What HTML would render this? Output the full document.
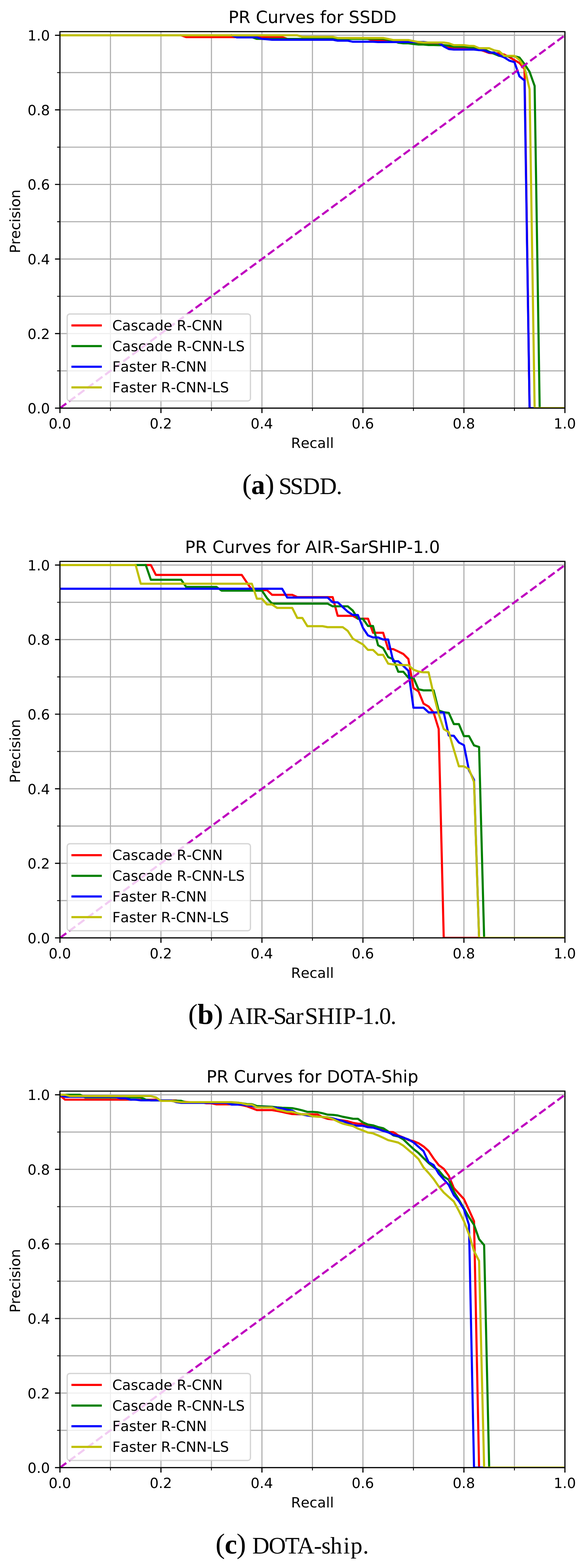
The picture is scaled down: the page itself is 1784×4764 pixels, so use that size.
<!DOCTYPE html>
<html lang="en"><head><meta charset="utf-8"><title>PR Curves</title>
<style>
html,body{margin:0;padding:0;background:#fff}
body{width:1784px;height:4764px;overflow:hidden}
svg{display:block}
text{font-family:"DejaVu Sans","Liberation Sans",sans-serif;fill:#000;font-kerning:none;text-rendering:geometricPrecision}
.tk text,.lg{font-size:42.98px}
.ti{font-size:51.57px}
.tk text.tn{font-size:42.7px}
.cap{font-family:"Liberation Serif","DejaVu Serif",serif;font-size:72px;font-kerning:none}
.cap .par{font-size:86px}
.cap .bl{font-weight:bold}
</style></head><body>
<svg width="1784" height="4764" viewBox="0 0 1784 4764">
<rect width="1784" height="4764" fill="#fff"/>
<defs><clipPath id="axclip"><rect x="182.2" y="96.1" width="1534.7" height="1143.9"/></clipPath></defs>
<g transform="translate(0,0)">
<path d="M182.2 96.1V1240M335.67 96.1V1240M489.14 96.1V1240M642.61 96.1V1240M796.08 96.1V1240M949.55 96.1V1240M1103.02 96.1V1240M1256.49 96.1V1240M1409.96 96.1V1240M1563.43 96.1V1240M1716.9 96.1V1240M182.2 1240H1716.9M182.2 1126.73H1716.9M182.2 1013.46H1716.9M182.2 900.19H1716.9M182.2 786.92H1716.9M182.2 673.65H1716.9M182.2 560.38H1716.9M182.2 447.11H1716.9M182.2 333.84H1716.9M182.2 220.57H1716.9M182.2 107.3H1716.9" stroke="#b0b0b0" stroke-width="3.44" fill="none"/>
<g clip-path="url(#axclip)" fill="none" stroke-width="6.45" stroke-linejoin="round" stroke-linecap="square">
<path d="M550.53 107.3 L565.88 112.7 L857.47 112.7 L872.82 118.1M1118.37 118.1 L1133.71 123 L1195.1 123 L1210.45 127.5 L1256.49 127.5 L1271.84 131.5 L1287.18 131.5 L1302.53 131 L1317.88 131 L1333.23 131.5 L1348.57 138 L1363.92 144.3 L1425.31 144.3 L1440.65 146 L1456 151 L1471.35 155.2 L1486.7 160.9 L1502.04 162.2 L1517.39 162.2 L1532.74 165.9 L1548.08 173.4 L1563.43 182.5 L1578.78 191.5 L1594.12 209.7 L1609.47 1240" stroke="#ff0000"/>
<path d="M704 107.3 L719.35 113 L765.39 113 L780.73 118.1 L1164.41 118.1 L1179.76 120.5 L1195.1 124 L1210.45 129.8 L1225.8 131.5 L1241.14 131.5 L1256.49 133.5 L1271.84 135.3 L1287.18 135.3 L1302.53 136.8 L1317.88 136.8 L1333.23 137.3 L1348.57 137.3 L1363.92 138.6 L1379.27 141.8 L1409.96 141.8 L1425.31 143.5 L1440.65 143.5 L1456 148 L1471.35 150 L1486.7 157 L1502.04 163.4 L1517.39 169.7 L1532.74 170.7 L1563.43 170.7 L1578.78 174.9 L1594.12 194.8 L1609.47 218 L1624.82 261.1 L1640.16 1240" stroke="#008000"/>
<path d="M704 107.3 L719.35 113.6 L780.73 113.6 L796.08 118.1 L811.43 119.3 L826.77 120.7 L1010.94 120.7 L1026.29 123.6 L1056.98 123.6 L1072.33 126.8 L1133.71 126.8 L1149.06 127.8 L1287.18 127.8 L1302.53 129.5 L1317.88 129.5 L1333.23 129.8 L1348.57 141 L1363.92 149 L1379.27 150.5 L1440.65 150.5 L1456 152.2 L1471.35 152.7 L1486.7 159.2 L1502.04 159.7 L1517.39 168.4 L1532.74 174.6 L1548.08 184.3 L1563.43 188.7 L1578.78 232.1 L1594.12 244.5 L1609.47 1240 L1624.82 1240" stroke="#0000ff"/>
<path d="M182.2 107.3 L903.51 107.3 L918.86 111.9 L1010.94 111.9 L1026.29 115.4 L1164.41 115.4 L1179.76 118.4 L1195.1 121.6 L1241.14 121.6 L1256.49 124.8 L1271.84 127.8 L1287.18 129.3 L1348.57 129.3 L1363.92 131.4 L1379.27 137.3 L1409.96 137.3 L1425.31 139.3 L1440.65 139.8 L1456 146.5 L1486.7 146.5 L1502.04 153 L1517.39 156 L1532.74 169.8 L1563.43 169.8 L1578.78 182.3 L1594.12 204.7 L1609.47 271 L1624.82 1240 L1716.9 1240" stroke="#bfbf00"/>
<path d="M182.2 1240L1716.9 107.3" stroke="#bf00bf" stroke-dasharray="23.85 10.31" stroke-linecap="butt"/>
</g>
<path d="M182.2 1240v15.04M182.2 1240h-15.04M489.14 1240v15.04M182.2 1013.46h-15.04M796.08 1240v15.04M182.2 786.92h-15.04M1103.02 1240v15.04M182.2 560.38h-15.04M1409.96 1240v15.04M182.2 333.84h-15.04M1716.9 1240v15.04M182.2 107.3h-15.04" stroke="#000" stroke-width="3.44" fill="none"/>
<path d="M335.67 1240v8.6M182.2 1126.73h-8.6M642.61 1240v8.6M182.2 900.19h-8.6M949.55 1240v8.6M182.2 673.65h-8.6M1256.49 1240v8.6M182.2 447.11h-8.6M1563.43 1240v8.6M182.2 220.57h-8.6" stroke="#000" stroke-width="2.58" fill="none"/>
<rect x="182.2" y="96.1" width="1534.7" height="1143.9" fill="none" stroke="#000" stroke-width="3.44" stroke-linejoin="miter"/>
<g class="tk">
<text class="tn" x="181.9" y="1302.3" text-anchor="middle">0.0</text>
<text class="tn" x="151.7" y="1256.1" text-anchor="end">0.0</text>
<text class="tn" x="488.84" y="1302.3" text-anchor="middle">0.2</text>
<text class="tn" x="151.7" y="1029.56" text-anchor="end">0.2</text>
<text class="tn" x="795.78" y="1302.3" text-anchor="middle">0.4</text>
<text class="tn" x="151.7" y="803.02" text-anchor="end">0.4</text>
<text class="tn" x="1102.72" y="1302.3" text-anchor="middle">0.6</text>
<text class="tn" x="151.7" y="576.48" text-anchor="end">0.6</text>
<text class="tn" x="1409.66" y="1302.3" text-anchor="middle">0.8</text>
<text class="tn" x="151.7" y="349.94" text-anchor="end">0.8</text>
<text class="tn" x="1716.6" y="1302.3" text-anchor="middle">1.0</text>
<text class="tn" x="151.7" y="123.4" text-anchor="end">1.0</text>
<text x="949.55" y="1361.2" text-anchor="middle">Recall</text>
<text transform="translate(61.2,672.55) rotate(-90)" text-anchor="middle">Precision</text>
</g>
<text class="ti" x="949.55" y="70.4" text-anchor="middle">PR Curves for SSDD</text>
<rect x="204.2" y="953.9" width="556.9" height="264.4" rx="8" ry="8" fill="#fff" fill-opacity="0.8" stroke="#ccc" stroke-opacity="0.8" stroke-width="4"/>
<path d="M220.3 988.75H306.26" stroke="#ff0000" stroke-width="6.45" stroke-linecap="square"/>
<text class="lg" x="341.26" y="1003.75">Cascade R-CNN</text>
<path d="M220.3 1051.5H306.26" stroke="#008000" stroke-width="6.45" stroke-linecap="square"/>
<text class="lg" x="341.26" y="1066.5">Cascade R-CNN-LS</text>
<path d="M220.3 1114.25H306.26" stroke="#0000ff" stroke-width="6.45" stroke-linecap="square"/>
<text class="lg" x="341.26" y="1129.25">Faster R-CNN</text>
<path d="M220.3 1177H306.26" stroke="#bfbf00" stroke-width="6.45" stroke-linecap="square"/>
<text class="lg" x="341.26" y="1192">Faster R-CNN-LS</text>
<text class="cap" y="1501.3" x="736.2 763.5 805 835 847.1 881.8 920.2 971.5 1021.9"><tspan class="par" dy="-1">(</tspan><tspan class="bl" dy="1" style="font-size:84px">a</tspan><tspan class="par" dy="-1">)</tspan><tspan dy="1"> SSDD.</tspan></text>
</g>
<g transform="translate(0,1609.5)">
<path d="M182.2 96.1V1240M335.67 96.1V1240M489.14 96.1V1240M642.61 96.1V1240M796.08 96.1V1240M949.55 96.1V1240M1103.02 96.1V1240M1256.49 96.1V1240M1409.96 96.1V1240M1563.43 96.1V1240M1716.9 96.1V1240M182.2 1240H1716.9M182.2 1126.73H1716.9M182.2 1013.46H1716.9M182.2 900.19H1716.9M182.2 786.92H1716.9M182.2 673.65H1716.9M182.2 560.38H1716.9M182.2 447.11H1716.9M182.2 333.84H1716.9M182.2 220.57H1716.9M182.2 107.3H1716.9" stroke="#b0b0b0" stroke-width="3.44" fill="none"/>
<g clip-path="url(#axclip)" fill="none" stroke-width="6.45" stroke-linejoin="round" stroke-linecap="square">
<path d="M443.1 107.3 L458.45 107.3 L473.79 137.3 L734.69 137.3 L750.04 160 L765.39 182.5 L780.73 182.5 L796.08 183.5 L811.43 183.5 L826.77 197.7 L888.16 197.7 L903.51 204.6 L1010.94 204.6 L1026.29 261.4 L1072.33 261.4 L1087.67 270.1 L1118.37 270.1 L1133.71 312.9 L1164.41 312.9 L1179.76 362.6 L1195.1 362.6 L1210.45 369.9 L1225.8 377.5 L1241.14 392.6 L1256.49 481 L1271.84 491 L1287.18 528.3 L1302.53 537 L1317.88 555.6 L1333.23 605.4 L1348.57 1240 L1456 1240" stroke="#ff0000"/>
<path d="M412.4 107.3 L443.1 107.3 L458.45 151.9 L550.53 151.9 L565.88 173.8 L657.96 173.8 L673.3 185 L796.08 185 L811.43 207.6 L826.77 224.5 L995.59 224.5 L1010.94 232.6 L1056.98 232.6 L1072.33 245.7 L1087.67 270.6 L1103.02 270.6 L1118.37 292.5 L1133.71 292.5 L1149.06 351 L1164.41 359.7 L1179.76 387 L1195.1 393.2 L1210.45 431.5 L1225.8 431.5 L1241.14 449.5 L1256.49 449.5 L1271.84 484.7 L1287.18 488 L1317.88 488 L1333.23 549.4 L1348.57 554.4 L1363.92 556.4 L1379.27 590.4 L1394.61 590.4 L1409.96 627 L1425.31 627 L1440.65 655.2 L1456 660 L1471.35 1240" stroke="#008000"/>
<path d="M182.2 179.3 L857.47 179.3 L872.82 205.9 L995.59 205.9 L1010.94 220.4 L1026.29 220.4 L1041.63 234.8 L1056.98 249 L1072.33 258.9 L1087.67 258.9 L1103.02 298 L1118.37 321.1 L1133.71 327.3 L1149.06 327.3 L1164.41 333.5 L1179.76 333.5 L1195.1 399.5 L1210.45 399.5 L1225.8 413.8 L1241.14 428.5 L1256.49 540.7 L1287.18 540.7 L1302.53 554.9 L1348.57 554.9 L1363.92 625.3 L1379.27 626 L1394.61 646.5 L1409.96 654.5 L1425.31 731.2 L1440.65 759.9 L1456 1240" stroke="#0000ff"/>
<path d="M182.2 107.3 L412.4 107.3 L427.75 163.9 L765.39 163.9 L780.73 209.5 L796.08 209.5 L811.43 227 L826.77 227 L842.12 237.5 L888.16 237.5 L903.51 268 L918.86 268 L934.2 293 L980.24 293 L995.59 296 L1041.63 296 L1056.98 307.4 L1072.33 331 L1087.67 339.8 L1103.02 348.5 L1118.37 365.1 L1133.71 365.1 L1149.06 380 L1164.41 380 L1179.76 406.9 L1195.1 409.4 L1210.45 410.2 L1225.8 411.3 L1241.14 411.3 L1256.49 425 L1271.84 431 L1287.18 433 L1302.53 433 L1317.88 500 L1333.23 559.4 L1348.57 605.4 L1363.92 615 L1379.27 668 L1394.61 718.8 L1409.96 718.8 L1425.31 727.5 L1440.65 766 L1456 1240 L1716.9 1240" stroke="#bfbf00"/>
<path d="M182.2 1240L1716.9 107.3" stroke="#bf00bf" stroke-dasharray="23.85 10.31" stroke-linecap="butt"/>
</g>
<path d="M182.2 1240v15.04M182.2 1240h-15.04M489.14 1240v15.04M182.2 1013.46h-15.04M796.08 1240v15.04M182.2 786.92h-15.04M1103.02 1240v15.04M182.2 560.38h-15.04M1409.96 1240v15.04M182.2 333.84h-15.04M1716.9 1240v15.04M182.2 107.3h-15.04" stroke="#000" stroke-width="3.44" fill="none"/>
<path d="M335.67 1240v8.6M182.2 1126.73h-8.6M642.61 1240v8.6M182.2 900.19h-8.6M949.55 1240v8.6M182.2 673.65h-8.6M1256.49 1240v8.6M182.2 447.11h-8.6M1563.43 1240v8.6M182.2 220.57h-8.6" stroke="#000" stroke-width="2.58" fill="none"/>
<rect x="182.2" y="96.1" width="1534.7" height="1143.9" fill="none" stroke="#000" stroke-width="3.44" stroke-linejoin="miter"/>
<g class="tk">
<text class="tn" x="181.9" y="1302.3" text-anchor="middle">0.0</text>
<text class="tn" x="151.7" y="1256.1" text-anchor="end">0.0</text>
<text class="tn" x="488.84" y="1302.3" text-anchor="middle">0.2</text>
<text class="tn" x="151.7" y="1029.56" text-anchor="end">0.2</text>
<text class="tn" x="795.78" y="1302.3" text-anchor="middle">0.4</text>
<text class="tn" x="151.7" y="803.02" text-anchor="end">0.4</text>
<text class="tn" x="1102.72" y="1302.3" text-anchor="middle">0.6</text>
<text class="tn" x="151.7" y="576.48" text-anchor="end">0.6</text>
<text class="tn" x="1409.66" y="1302.3" text-anchor="middle">0.8</text>
<text class="tn" x="151.7" y="349.94" text-anchor="end">0.8</text>
<text class="tn" x="1716.6" y="1302.3" text-anchor="middle">1.0</text>
<text class="tn" x="151.7" y="123.4" text-anchor="end">1.0</text>
<text x="949.55" y="1361.2" text-anchor="middle">Recall</text>
<text transform="translate(61.2,672.55) rotate(-90)" text-anchor="middle">Precision</text>
</g>
<text class="ti" x="949.55" y="70.4" text-anchor="middle">PR Curves for AIR-SarSHIP-1.0</text>
<rect x="204.2" y="953.9" width="556.9" height="264.4" rx="8" ry="8" fill="#fff" fill-opacity="0.8" stroke="#ccc" stroke-opacity="0.8" stroke-width="4"/>
<path d="M220.3 988.75H306.26" stroke="#ff0000" stroke-width="6.45" stroke-linecap="square"/>
<text class="lg" x="341.26" y="1003.75">Cascade R-CNN</text>
<path d="M220.3 1051.5H306.26" stroke="#008000" stroke-width="6.45" stroke-linecap="square"/>
<text class="lg" x="341.26" y="1066.5">Cascade R-CNN-LS</text>
<path d="M220.3 1114.25H306.26" stroke="#0000ff" stroke-width="6.45" stroke-linecap="square"/>
<text class="lg" x="341.26" y="1129.25">Faster R-CNN</text>
<path d="M220.3 1177H306.26" stroke="#bfbf00" stroke-width="6.45" stroke-linecap="square"/>
<text class="lg" x="341.26" y="1192">Faster R-CNN-LS</text>
<text class="cap" y="1501.3" x="572.1 600.2 649.2 679.2 694.1 746.1 767.4 811.9 830.9 866.5 898.5 926.6 965.1 1017 1041.7 1080.7 1101.3 1136.2 1152.5 1186.7"><tspan class="par" dy="-1">(</tspan><tspan class="bl" dy="1" style="font-size:88px">b</tspan><tspan class="par" dy="-1">)</tspan><tspan dy="1"> AIR-SarSHIP-1.0.</tspan></text>
</g>
<g transform="translate(0,3219)">
<path d="M182.2 96.1V1240M335.67 96.1V1240M489.14 96.1V1240M642.61 96.1V1240M796.08 96.1V1240M949.55 96.1V1240M1103.02 96.1V1240M1256.49 96.1V1240M1409.96 96.1V1240M1563.43 96.1V1240M1716.9 96.1V1240M182.2 1240H1716.9M182.2 1126.73H1716.9M182.2 1013.46H1716.9M182.2 900.19H1716.9M182.2 786.92H1716.9M182.2 673.65H1716.9M182.2 560.38H1716.9M182.2 447.11H1716.9M182.2 333.84H1716.9M182.2 220.57H1716.9M182.2 107.3H1716.9" stroke="#b0b0b0" stroke-width="3.44" fill="none"/>
<g clip-path="url(#axclip)" fill="none" stroke-width="6.45" stroke-linejoin="round" stroke-linecap="square">
<path d="M182.2 109 L197.55 122.1 L397.06 122.1M412.4 122.1 L473.79 122.1 L489.14 124.5 L535.18 124.5 L550.53 127.5 L565.88 129 L581.22 130.5M611.92 130.5 L627.26 133 L642.61 133 L657.96 136.3 L719.35 136.3 L734.69 138.5 L750.04 142 L765.39 147.8 L780.73 153.7 L826.77 153.7 L842.12 156.4 L857.47 159.3 L872.82 162.8 L888.16 165.8 L903.51 166.3 L918.86 166.5 L934.2 166.5 L949.55 166.8 L964.9 167 L980.24 175.2 L995.59 180.2 L1010.94 182 L1026.29 183.2 L1041.63 185.2 L1056.98 187.8 L1072.33 192.4 L1087.67 195 L1103.02 195.8 L1118.37 199.6 L1133.71 202 L1149.06 206 L1164.41 212 L1179.76 220.2 L1195.1 220.7 L1210.45 230.7 L1225.8 236.9 L1241.14 244.5 L1256.49 248.1 L1271.84 254.3 L1287.18 264.2 L1302.53 278 L1317.88 300.9 L1333.23 320.8 L1348.57 332 L1363.92 353.1 L1379.27 390.5 L1394.61 407.4 L1409.96 424 L1425.31 457.1 L1440.65 491.2 L1456 1240" stroke="#ff0000"/>
<path d="M197.55 107.3 L243.59 107.3 L258.94 115.3 L427.75 115.3 L443.1 122 L458.45 124.3 L504.49 124.3 L519.83 125.5 L550.53 125.5 L565.88 130.5 L688.65 130.5 L704 131 L719.35 131 L734.69 133 L750.04 135.5 L765.39 135.8 L780.73 141.5 L796.08 142.3 L811.43 143 L826.77 143.8 L842.12 145.5 L857.47 146.6 L872.82 147.1 L888.16 147.9 L903.51 150.9 L918.86 154.6 L934.2 159.1 L949.55 159.1 L964.9 160.1 L980.24 163.3 L995.59 167.5 L1010.94 168.3 L1026.29 170 L1041.63 174 L1056.98 177 L1072.33 180 L1087.67 180.2 L1103.02 191.3 L1118.37 197.8 L1133.71 200.1 L1149.06 205.3 L1164.41 208.8 L1179.76 218.7 L1195.1 230.5 L1210.45 234 L1225.8 242.6 L1241.14 257.5 L1256.49 271.7 L1271.84 284 L1287.18 299.5 L1302.53 314.4 L1317.88 327 L1333.23 337 L1348.57 355.6 L1363.92 365.6 L1379.27 401 L1394.61 426 L1409.96 452.5 L1425.31 478.8 L1440.65 502.4 L1456 545.9 L1471.35 564.1 L1486.7 1240" stroke="#008000"/>
<path d="M182.2 108.4 L197.55 113.2 L212.89 113.5 L351.02 113.5 L366.36 117.9 L381.71 117.9 L397.06 122.1 L412.4 122.1 L427.75 124.1 L519.83 124.1 L535.18 129.5 L550.53 131.7 L688.65 131.7 L704 137 L734.69 137 L750.04 139 L765.39 141 L780.73 145 L811.43 145 L826.77 145.8 L842.12 147.5 L857.47 148.9 L872.82 152.8 L888.16 155.3 L903.51 164.5 L918.86 167 L934.2 170 L949.55 172.5M980.24 174.5 L995.59 176 L1010.94 178.7 L1026.29 183.2 L1041.63 186.9 L1056.98 193.1 L1072.33 199.5 L1087.67 201.3 L1103.02 201.3 L1118.37 205.8 L1133.71 207 L1149.06 211.5 L1164.41 217 L1179.76 221.4 L1195.1 228.7 L1210.45 232.6 L1225.8 237.4 L1241.14 243.1 L1256.49 251.8 L1271.84 265 L1287.18 278.5 L1302.53 311.8 L1317.88 320.8 L1333.23 346.9 L1348.57 364.3 L1363.92 381.2 L1379.27 412.3 L1394.61 430.3 L1409.96 455.1 L1425.31 502.4 L1440.65 1240 L1471.35 1240" stroke="#0000ff"/>
<path d="M182.2 107.3 L197.55 107.3 L212.89 111.3 L458.45 111.3 L473.79 115.1 L489.14 125.8 L519.83 125.8 L535.18 127.8 L550.53 129.6 L704 129.6 L719.35 131.3 L734.69 132.8 L750.04 137 L765.39 137 L780.73 145.3 L796.08 145.8 L826.77 145.8 L842.12 152.1 L857.47 155.1 L872.82 158.8 L888.16 158.8 L903.51 163.3 L918.86 167 L934.2 167 L949.55 172.5 L964.9 173.7 L980.24 174.5 L995.59 175.7 L1010.94 180.7 L1026.29 188.2 L1041.63 194.9 L1056.98 198.7 L1072.33 202 L1087.67 210 L1103.02 215.7 L1118.37 221.9 L1133.71 224.4 L1149.06 230.7 L1164.41 237.6 L1179.76 245.1 L1195.1 248.6 L1210.45 252.5 L1225.8 261.7 L1241.14 274.9 L1256.49 287.9 L1271.84 302.4 L1287.18 328 L1302.53 344.8 L1317.88 363.1 L1333.23 385.5 L1348.57 404.1 L1363.92 417.8 L1379.27 431.5 L1394.61 460.1 L1409.96 491.2 L1425.31 531 L1440.65 582 L1456 611.8 L1471.35 1240 L1716.9 1240" stroke="#bfbf00"/>
<path d="M182.2 1240L1716.9 107.3" stroke="#bf00bf" stroke-dasharray="23.85 10.31" stroke-linecap="butt"/>
</g>
<path d="M182.2 1240v15.04M182.2 1240h-15.04M489.14 1240v15.04M182.2 1013.46h-15.04M796.08 1240v15.04M182.2 786.92h-15.04M1103.02 1240v15.04M182.2 560.38h-15.04M1409.96 1240v15.04M182.2 333.84h-15.04M1716.9 1240v15.04M182.2 107.3h-15.04" stroke="#000" stroke-width="3.44" fill="none"/>
<path d="M335.67 1240v8.6M182.2 1126.73h-8.6M642.61 1240v8.6M182.2 900.19h-8.6M949.55 1240v8.6M182.2 673.65h-8.6M1256.49 1240v8.6M182.2 447.11h-8.6M1563.43 1240v8.6M182.2 220.57h-8.6" stroke="#000" stroke-width="2.58" fill="none"/>
<rect x="182.2" y="96.1" width="1534.7" height="1143.9" fill="none" stroke="#000" stroke-width="3.44" stroke-linejoin="miter"/>
<g class="tk">
<text class="tn" x="181.9" y="1302.3" text-anchor="middle">0.0</text>
<text class="tn" x="151.7" y="1256.1" text-anchor="end">0.0</text>
<text class="tn" x="488.84" y="1302.3" text-anchor="middle">0.2</text>
<text class="tn" x="151.7" y="1029.56" text-anchor="end">0.2</text>
<text class="tn" x="795.78" y="1302.3" text-anchor="middle">0.4</text>
<text class="tn" x="151.7" y="803.02" text-anchor="end">0.4</text>
<text class="tn" x="1102.72" y="1302.3" text-anchor="middle">0.6</text>
<text class="tn" x="151.7" y="576.48" text-anchor="end">0.6</text>
<text class="tn" x="1409.66" y="1302.3" text-anchor="middle">0.8</text>
<text class="tn" x="151.7" y="349.94" text-anchor="end">0.8</text>
<text class="tn" x="1716.6" y="1302.3" text-anchor="middle">1.0</text>
<text class="tn" x="151.7" y="123.4" text-anchor="end">1.0</text>
<text x="949.55" y="1361.2" text-anchor="middle">Recall</text>
<text transform="translate(61.2,672.55) rotate(-90)" text-anchor="middle">Precision</text>
</g>
<text class="ti" x="949.55" y="70.4" text-anchor="middle">PR Curves for DOTA-Ship</text>
<rect x="204.2" y="953.9" width="556.9" height="264.4" rx="8" ry="8" fill="#fff" fill-opacity="0.8" stroke="#ccc" stroke-opacity="0.8" stroke-width="4"/>
<path d="M220.3 988.75H306.26" stroke="#ff0000" stroke-width="6.45" stroke-linecap="square"/>
<text class="lg" x="341.26" y="1003.75">Cascade R-CNN</text>
<path d="M220.3 1051.5H306.26" stroke="#008000" stroke-width="6.45" stroke-linecap="square"/>
<text class="lg" x="341.26" y="1066.5">Cascade R-CNN-LS</text>
<path d="M220.3 1114.25H306.26" stroke="#0000ff" stroke-width="6.45" stroke-linecap="square"/>
<text class="lg" x="341.26" y="1129.25">Faster R-CNN</text>
<path d="M220.3 1177H306.26" stroke="#bfbf00" stroke-width="6.45" stroke-linecap="square"/>
<text class="lg" x="341.26" y="1192">Faster R-CNN-LS</text>
<text class="cap" y="1501.3" x="655 683.1 719 749 766.8 816.8 866.6 903.8 954 976.9 1004.1 1043.5 1065.5 1102.8"><tspan class="par" dy="-1">(</tspan><tspan class="bl" dy="1" style="font-size:84px">c</tspan><tspan class="par" dy="-1">)</tspan><tspan dy="1"> DOTA-ship.</tspan></text>
</g>
</svg></body></html>
